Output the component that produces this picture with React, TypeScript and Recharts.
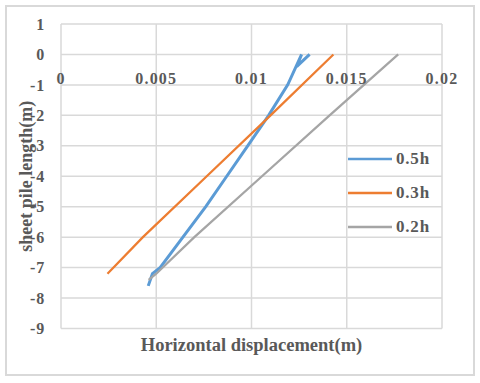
import { LineChart, Line, XAxis, YAxis, CartesianGrid, Legend } from "recharts";

// 0.5h, 0.3h and 0.2h wall displacement profiles, points in drawing order
const blueX = [0.01305, 0.01237, 0.01263, 0.0119, 0.0109, 0.0098, 0.0087, 0.0076, 0.0064, 0.0052, 0.0048, 0.00458];
const blueY = [0, -0.4, 0, -1, -2, -3, -4, -5, -6, -7, -7.2, -7.6];

const orangeX = [0.0143, 0.011, 0.00765, 0.0043, 0.00244];
const orangeY = [0, -2, -4, -6, -7.2];

const grayX = [0.0177, 0.0141, 0.01055, 0.007, 0.005, 0.0046];
const grayY = [0, -2, -4, -6, -7.2, -7.4];

const seriesNames = ["0.5h", "0.3h", "0.2h"];
const xTicks = [0, 0.005, 0.01, 0.015, 0.02];
const yTicks = [1, 0, -1, -2, -3, -4, -5, -6, -7, -8, -9];

const toPoints = (xs: number[], ys: number[]) => xs.map((x, i) => ({ x, y: ys[i] }));

const FONT = "'Liberation Serif', 'Times New Roman', serif";
const TEXT = "#595959";
const GRID = "#d9d9d9";

// x labels sit just under the y=0 line, as in the Excel original
const X_LABEL_Y = 84;

const XTick = ({ x, payload }: any) => (
  <text x={x} y={X_LABEL_Y} textAnchor="middle" fontFamily={FONT} fontWeight="bold" fontSize={16} fill={TEXT} style={{ letterSpacing: 1.2 }}>
    {String(payload.value)}
  </text>
);

const YTick = ({ x, y, payload }: any) => (
  <text x={x} y={y} dy="0.35em" textAnchor="end" fontFamily={FONT} fontWeight="bold" fontSize={16} fill={TEXT} style={{ letterSpacing: 0.8 }}>
    {String(payload.value)}
  </text>
);

const YTitle = ({ viewBox }: any) => {
  const cx = viewBox.x + 20.5;
  const cy = viewBox.y + viewBox.height / 2;
  return (
    <text x={cx} y={cy} transform={`rotate(-90, ${cx}, ${cy})`} textAnchor="middle" fontFamily={FONT} fontWeight="bold" fontSize={18} fill={TEXT}>
      sheet pile length(m)
    </text>
  );
};

const XTitle = ({ viewBox }: any) => (
  <text x={viewBox.x + viewBox.width / 2} y={351} textAnchor="middle" fontFamily={FONT} fontWeight="bold" fontSize={18.5} fill={TEXT}>
    Horizontal displacement(m)
  </text>
);

const LegendBox = ({ payload }: any) => {
  const items = [...(payload || [])].sort((a: any, b: any) => seriesNames.indexOf(a.value) - seriesNames.indexOf(b.value));
  return (
    <div>
      {items.map((e: any) => (
        <div key={e.value} style={{ display: "flex", alignItems: "center", height: 34 }}>
          <svg width={44} height={4}>
            <line x1={0} y1={2} x2={44} y2={2} stroke={e.color} strokeWidth={2.5} />
          </svg>
          <span style={{ marginLeft: 4, fontFamily: FONT, fontWeight: "bold", fontSize: 17, color: TEXT, letterSpacing: 0.8 }}>{e.value}</span>
        </div>
      ))}
    </div>
  );
};

export default function App() {
  return (
    <div style={{ position: "absolute", left: 0, top: 0, width: 480, height: 383, background: "#fff" }}>
      <div style={{ position: "absolute", left: 5, top: 5, width: 470, height: 371, border: `2px solid ${GRID}`, boxSizing: "border-box" }} />
      <LineChart width={480} height={383} margin={{ top: 24, right: 38, bottom: 0, left: 11 }}>
        <CartesianGrid stroke={GRID} strokeWidth={1.5} />
        <XAxis
          type="number"
          dataKey="x"
          domain={[0, 0.02]}
          ticks={xTicks}
          height={54.5}
          axisLine={false}
          tickLine={false}
          tick={<XTick />}
          label={<XTitle />}
          allowDuplicatedCategory={false}
        />
        <YAxis
          type="number"
          dataKey="y"
          domain={[-9, 1]}
          ticks={yTicks}
          width={50}
          axisLine={false}
          tickLine={false}
          tickSize={0}
          tickMargin={16}
          tick={<YTick />}
          label={<YTitle />}
        />
        <Legend layout="vertical" align="center" verticalAlign="middle" wrapperStyle={{ left: 348, top: 142, width: 100 }} content={<LegendBox />} />
        <Line data={toPoints(blueX, blueY)} dataKey="y" name={seriesNames[0]} stroke="#5B9BD5" strokeWidth={3} dot={false} isAnimationActive={false} />
        <Line data={toPoints(orangeX, orangeY)} dataKey="y" name={seriesNames[1]} stroke="#ED7D31" strokeWidth={2.25} dot={false} isAnimationActive={false} />
        <Line data={toPoints(grayX, grayY)} dataKey="y" name={seriesNames[2]} stroke="#A5A5A5" strokeWidth={2.25} dot={false} isAnimationActive={false} />
      </LineChart>
    </div>
  );
}
